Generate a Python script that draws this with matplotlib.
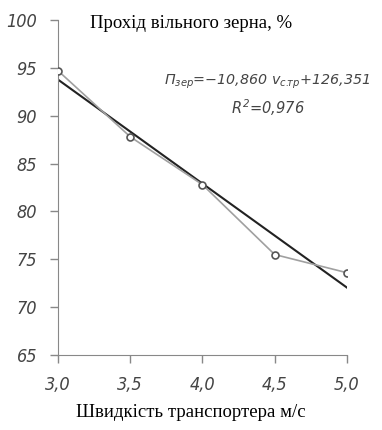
import matplotlib
matplotlib.use('Agg')
import matplotlib.pyplot as plt
import numpy as np

# speed of conveyor, m/s and free grain passage, %
speed = [3.0, 3.5, 4.0, 4.5, 5.0]
passage = [94.7, 87.8, 82.8, 75.5, 73.6]
k, b = -10.860, 126.351  # trend line coefficients
xticks = [3.0, 3.5, 4.0, 4.5, 5.0]
yticks = [65, 70, 75, 80, 85, 90, 95, 100]

plt.rcParams['mathtext.fontset'] = 'custom'
plt.rcParams['mathtext.it'] = 'DejaVu Sans:italic:light'
plt.rcParams['mathtext.rm'] = 'DejaVu Sans:italic:light'

fig = plt.figure(figsize=(3.82, 4.30), dpi=100)
ax = fig.add_axes([0.152, 0.1744, 0.756, 0.779])

xs = np.array([speed[0], speed[-1]])
ax.plot(speed, passage, color='#a0a0a0', lw=1.2, marker='o', ms=5,
        mfc='white', mec='#555555', mew=1.2, zorder=3)
ax.plot(xs, k*xs + b, color='#222222', lw=1.5, zorder=2)

ax.set_xlim(3.0, 5.0)
ax.set_ylim(65, 100)
ax.set_xticks(xticks)
ax.set_yticks(yticks)
ax.set_xticklabels([('%.1f' % v).replace('.', ',') for v in xticks])
ax.set_yticklabels([str(v) for v in yticks])
for s in ['top', 'right']:
    ax.spines[s].set_visible(False)
for s in ['left', 'bottom']:
    ax.spines[s].set_color('#888888')
ax.tick_params(colors='#888888', length=6, width=1, labelcolor='#444444', pad=9)
for lab in ax.get_xticklabels() + ax.get_yticklabels():
    lab.set_fontstyle('italic')
    lab.set_fontweight('light')
    lab.set_fontsize(13)
    lab.set_fontstretch('condensed')

fig.text(0.50, 0.945, 'Прохід вільного зерна, %', family='Liberation Serif',
         fontsize=13.5, ha='center', va='center')
fig.text(0.50, 0.04, 'Швидкість транспортера м/с', family='Liberation Serif',
         fontsize=13.5, ha='center', va='center')

ax.text(4.45, 93.5, r'$П_{зер}$=−10,860 $v_{с.\!\!тр}$+126,351', fontsize=10.3,
        style='italic', weight='light', color='#444444', ha='center', va='center')
ax.text(4.45, 90.8, r'$R^2$=0,976', fontsize=10.5, style='italic', weight='light',
        color='#444444', ha='center', va='center')

fig.savefig('out.png', dpi=100)
